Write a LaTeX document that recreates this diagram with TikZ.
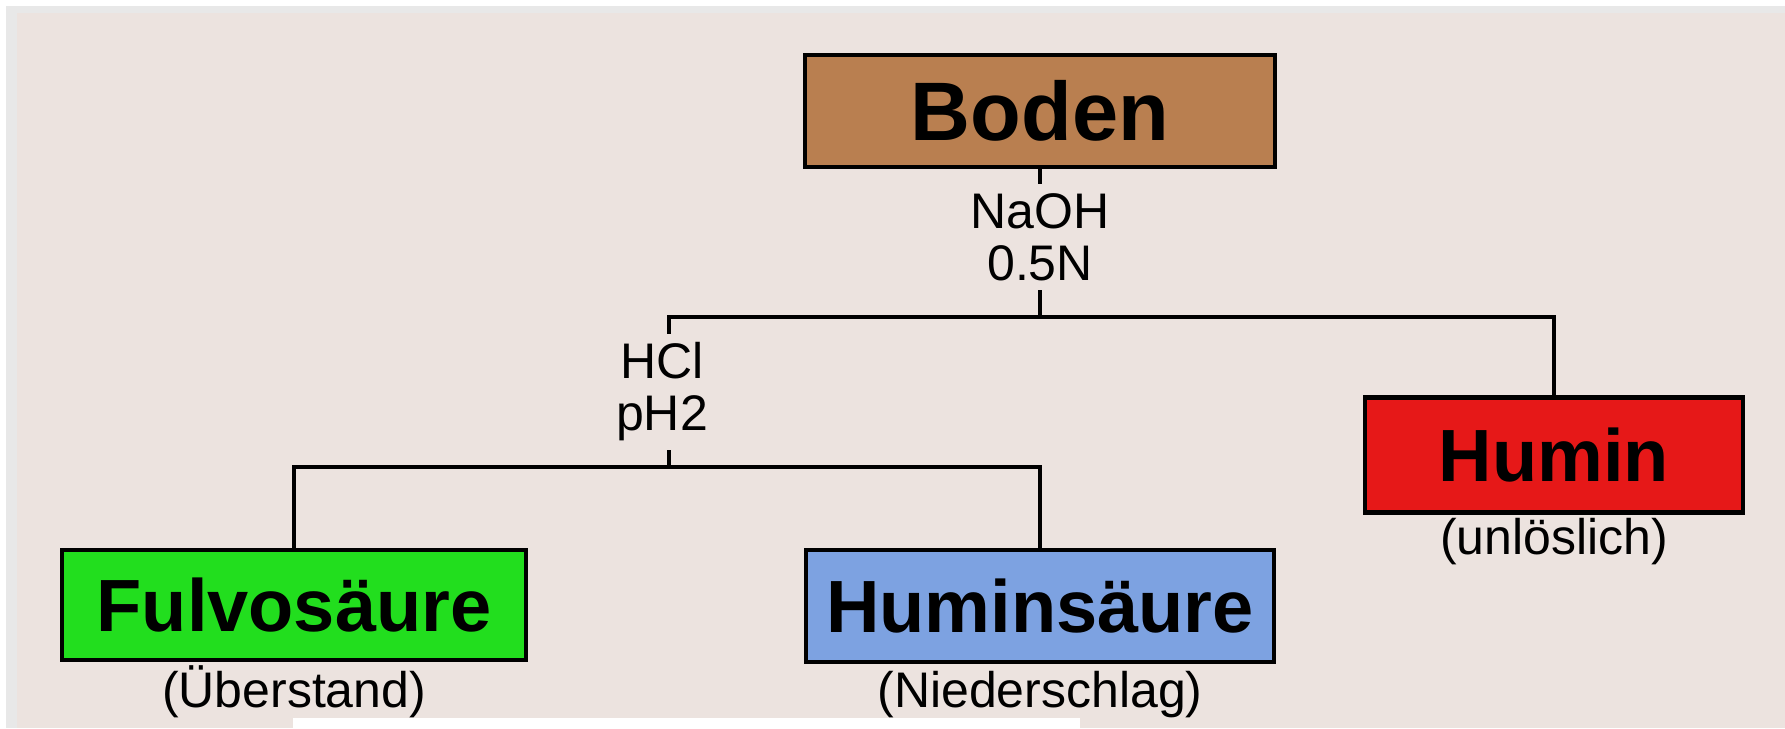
\documentclass[tikz,border=0pt]{standalone}
\usepackage{fontspec}
\setmainfont{Liberation Sans}
\definecolor{bgc}{RGB}{236,227,223}
\definecolor{edgec}{RGB}{232,232,232}
\definecolor{bodenc}{RGB}{185,127,80}
\definecolor{fulvoc}{RGB}{34,222,30}
\definecolor{huminsc}{RGB}{125,162,225}
\definecolor{huminc}{RGB}{230,24,24}
\tikzset{
  box/.style={draw=black, line width=4.5pt, inner sep=0pt, font=\fontsize{74}{74}\selectfont\bfseries},
  conn/.style={draw=black, line width=3.5pt},
  lbl/.style={fill=bgc, inner sep=9pt, align=center, font=\fontsize{50}{52}\selectfont},
  sub/.style={inner sep=0pt, font=\fontsize{50}{52}\selectfont}
}
\begin{document}
\begin{tikzpicture}[x=1pt,y=-1pt]
\useasboundingbox (0,0) rectangle (1785,728);
\fill[white] (0,0) rectangle (1785,728);
\fill[edgec] (6,6) rectangle (1785,728);
\fill[bgc] (17,13) rectangle (1785,728);
\fill[white] (293,718) rectangle (1080,728);

\node[box, fill=bodenc, minimum width=470pt, minimum height=112pt, font=\fontsize{83}{83}\selectfont\bfseries] (boden) at (1040,111) {Boden};
\node[box, fill=fulvoc, minimum width=464pt, minimum height=110pt] (fulvo) at (294,605) {Fulvosäure};
\node[box, fill=huminsc, minimum width=468pt, minimum height=112pt] (humins) at (1040,606) {Huminsäure};
\node[box, fill=huminc, minimum width=378pt, minimum height=115pt] (humin) at (1554,455) {Humin};

\coordinate (j1) at (1040,317);
\coordinate (jl) at (669,317);
\coordinate (jr) at (1554,317);
\coordinate (j2) at (669,467);
\coordinate (j2l) at (294,467);
\coordinate (j2r) at (1040,467);

\draw[conn] (boden.south) -- (j1);
\draw[conn] (j2) -- (jl) -- (jr) -- (humin.north);
\draw[conn] (fulvo.north) -- (j2l) -- (j2r) -- (humins.north);

\node[lbl] (naoh) at (1040,237) {NaOH\\0.5N};
\node[lbl] (hcl) at (662,392) {HCl\\pH2};

\node[sub, anchor=base] (ueber) at (294,707) {(Überstand)};
\node[sub, anchor=base] (nieder) at (1040,707) {(Niederschlag)};
\node[sub, anchor=base] (unl) at (1554,554) {(unlöslich)};
\end{tikzpicture}
\end{document}
